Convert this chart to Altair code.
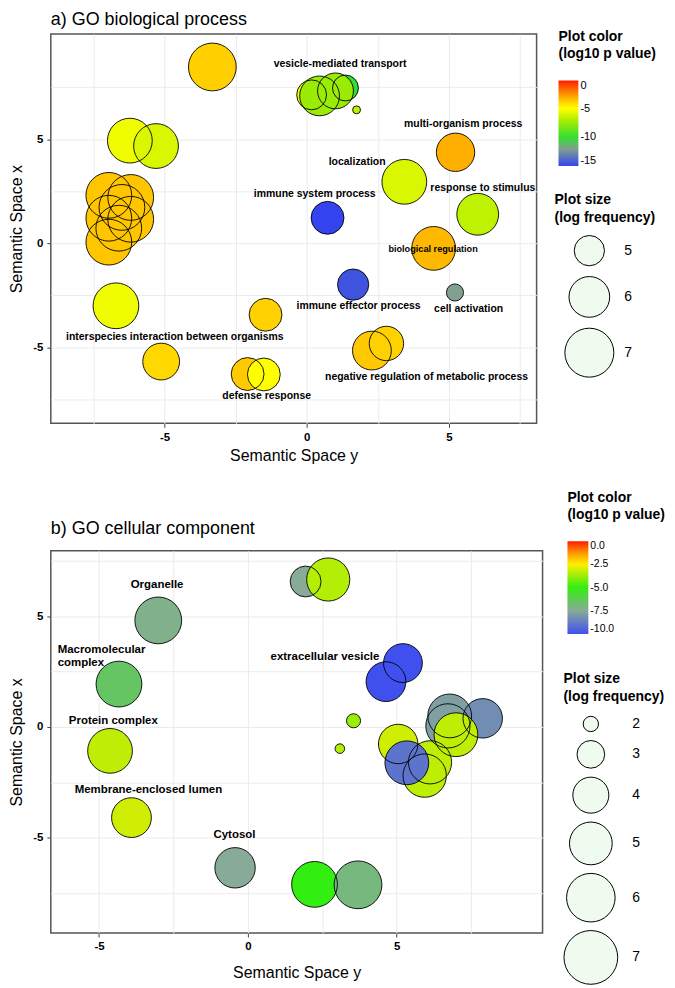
import altair as alt
import pandas as pd

FONT = "Liberation Sans"

# ---------------- a) GO biological process ----------------
bp_sy = [-3.32, 0.17, 1.36, 0.45, 1.01, 1.75, -6.22, -5.30,
         -6.96, -6.19, -6.50, -6.96, -6.19, -6.61, -6.96,
         -6.71, -1.45, -5.12, -2.08, -1.51, 0.73, 1.63, 5.21,
         2.29, 2.80, 4.46, 6.01, 3.43, 5.23]
bp_sx = [8.47, 7.13, 7.46, 7.08, 7.32, 6.41, 4.93, 4.67,
         2.30, 2.20, 1.72, 1.20, 1.15, 0.72, 0.05,
         -3.01, -3.44, -5.69, -6.29, -6.31, 1.22, -1.99, -2.37,
         -5.16, -4.82, -0.25, 1.39, 2.95, 4.37]
bp_logp = [-3.7, -5.35, -10.0, -7.4, -7.4, -6.5, -5.35, -5.9,
           -3.5, -3.5, -3.5, -3.5, -3.5, -3.5, -3.5,
           -5.35, -3.75, -3.9, -3.6, -5.0, -15.0, -14.5, -12.0,
           -3.55, -3.75, -3.2, -6.5, -5.9, -3.0]
bp_logsize = [6.84, 4.97, 4.67, 5.90, 5.50, 3.85, 6.47, 6.47,
              6.59, 6.59, 6.59, 6.59, 6.59, 6.59, 6.59,
              6.59, 5.22, 5.59, 5.22, 5.22, 5.22, 5.08, 4.16,
              5.80, 5.36, 6.35, 6.12, 6.47, 5.75]

bp_label_text = ["vesicle-mediated transport", "multi-organism process", "localization",
                 "immune system process", "response to stimulus", "immune effector process",
                 "cell activation", "interspecies interaction between organisms",
                 "negative regulation of metabolic process", "defense response"]
bp_label_sy = [1.17, 5.50, 1.77, 0.28, 6.19, 1.82, 5.69, -4.64, 4.21, -1.41]
bp_label_sx = [8.61, 5.74, 3.92, 2.34, 2.67, -3.01, -3.17, -4.50, -6.44, -7.37]

bp_small_text = ["biological regulation"]
bp_small_sy = [4.44]
bp_small_sx = [-0.27]

bp_color_domain = [-15, -12, -10, -7, -5, -4, -2, 0]
bp_color_range = ["#3344ee", "#80a090", "#33dd33", "#aaee00", "#ffff00", "#ffdd00", "#ff8000", "#ff1a00"]
bp_color_ticks = [0, -5, -10, -15]
bp_size_ticks = [5, 6, 7]

# ---------------- b) GO cellular component ----------------
cc_sy = [-3.01, -4.33, -4.63, -3.91, -0.43, 2.24, 3.70, 1.94, 2.70,
         5.21, 4.64, 3.55, 3.09,
         6.78, 6.72, 7.89, 6.99, 5.05, 6.12, 5.94, 5.34]
cc_sx = [4.82, 1.94, -1.08, -4.10, -6.37, -7.12, -7.14, 6.58, 6.67,
         2.89, 2.05, 0.28, -0.98,
         0.50, 0.05, 0.39, -0.35, -0.77, -1.60, -2.20, -1.62]
cc_logp = [-7.25, -6.5, -3.3, -3.08, -7.5, -5.0, -7.0, -7.5, -3.43,
           -10.0, -10.0, -3.75, -3.43,
           -7.8, -7.8, -8.3, -3.3, -3.08, -3.3, -3.3, -9.0]
cc_logsize = [5.68, 5.51, 5.33, 4.54, 4.63, 5.51, 5.86, 3.35, 5.06,
              4.40, 4.54, 1.93, 1.73,
              5.17, 5.24, 4.49, 5.17, 4.49, 5.07, 5.10, 5.17]

cc_label_text = ["Organelle", "Protein complex", "Membrane-enclosed lumen", "Cytosol",
                 "extracellular vesicle"]
cc_label_sy = [-3.05, -4.52, -3.34, -0.45, 2.59]
cc_label_sx = [6.40, 0.28, -2.87, -4.90, 3.17]

cc_left_text = ["Macromolecular", "complex"]
cc_left_sy = [-6.39, -6.39]
cc_left_sx = [3.50, 2.90]

cc_color_domain = [-10, -7.5, -5, -2.5, -1.25, 0]
cc_color_range = ["#4050ee", "#88aa99", "#33ee11", "#ffee00", "#ff9900", "#ff1a00"]
cc_color_ticks = [0, -2.5, -5, -7.5, -10]
cc_size_ticks = [2, 3, 4, 5, 6, 7]


def tick_cond():
    return {"condition": {"test": "datum.value % 5 !== 0", "value": 0}, "value": 1}


LABEL_EXPR = "datum.value % 5 === 0 ? (datum.value < 0 ? '-' + abs(datum.value) : '' + datum.value) : ''"


def panel(sy, sx, logp, logsize, lab_t, lab_x, lab_y, extra_layers,
          xdom, ydom, grid_vals_x, grid_vals_y, x_title_pad,
          cdom, crng, cticks, cfmt, glen, gthick, clx, cly, clabel_size, ctitlepad,
          sdom, srng, sticks, slx, sly, soff, slaboff, srowpad, stitlepad,
          lab_size, width, height, title, title_dy):
    df = pd.DataFrame({"sy": sy, "sx": sx, "logp": logp, "logsize": logsize})
    ldf = pd.DataFrame({"t": lab_t, "sy": lab_x, "sx": lab_y})

    x = alt.X("sy:Q", scale=alt.Scale(domain=xdom, nice=False, zero=False),
              axis=alt.Axis(title="Semantic Space y", values=grid_vals_x, labelExpr=LABEL_EXPR,
                            tickOpacity=tick_cond(), titlePadding=x_title_pad))
    y = alt.Y("sx:Q", scale=alt.Scale(domain=ydom, nice=False, zero=False),
              axis=alt.Axis(title="Semantic Space x", values=grid_vals_y, labelExpr=LABEL_EXPR,
                            tickOpacity=tick_cond(), titlePadding=8))

    if cfmt == "d":
        cexpr = "datum.value < 0 ? '-' + abs(datum.value) : '' + datum.value"
    else:
        cexpr = "datum.value < 0 ? '-' + format(abs(datum.value), '.1f') : format(datum.value, '.1f')"

    color = alt.Color("logp:Q",
                      scale=alt.Scale(domain=cdom, range=crng, interpolate="rgb"),
                      legend=alt.Legend(title=["Plot color", "(log10 p value)"], orient="none",
                                        legendX=clx, legendY=cly, values=cticks, labelExpr=cexpr,
                                        gradientLength=glen, gradientThickness=gthick,
                                        labelFontSize=clabel_size, direction="vertical",
                                        titlePadding=ctitlepad))
    size_legend = alt.Legend(title=["Plot size", "(log frequency)"], orient="none",
                             legendX=slx, legendY=sly, values=sticks, symbolOffset=soff,
                             symbolFillColor="#effbef", symbolStrokeColor="black",
                             symbolStrokeWidth=1, labelFontSize=14, rowPadding=srowpad,
                             labelOffset=slaboff, symbolType="circle", format="d",
                             titlePadding=stitlepad)
    size = alt.Size("logsize:Q", scale=alt.Scale(domain=sdom, range=srng, zero=False),
                    legend=size_legend)

    fill = alt.Chart(df).mark_circle(opacity=1, strokeWidth=0).encode(
        x=x, y=y, color=color, size=size)
    outline = alt.Chart(df).mark_circle(fillOpacity=0, stroke="black", strokeWidth=1,
                                        strokeOpacity=0.9).encode(
        x=x, y=y, size=alt.Size("logsize:Q", scale=alt.Scale(domain=sdom, range=srng, zero=False),
                                legend=None))
    labels = alt.Chart(ldf).mark_text(font=FONT, fontWeight="bold", fontSize=lab_size,
                                      color="black", baseline="middle").encode(
        x=x, y=y, text="t:N")
    layers = [fill, outline, labels]
    for (t, lx, ly, fs, al) in extra_layers:
        edf = pd.DataFrame({"t": t, "sy": lx, "sx": ly})
        layers.append(alt.Chart(edf).mark_text(font=FONT, fontWeight="bold", fontSize=fs,
                                               color="black", baseline="middle", align=al).encode(
            x=x, y=y, text="t:N"))
    return alt.layer(*layers).properties(
        width=width, height=height,
        title=alt.TitleParams(title, anchor="start", font=FONT, fontSize=18, fontWeight="normal",
                              offset=5, dy=title_dy, color="black", frame="group"))


top = panel(bp_sy, bp_sx, bp_logp, bp_logsize, bp_label_text, bp_label_sy, bp_label_sx,
            [(bp_small_text, bp_small_sy, bp_small_sx, 9.2, "center")],
            [-9.0, 8.08], [-8.66, 10.05],
            [-7.5, -5, -2.5, 0, 2.5, 5, 7.5], [-7.5, -5, -2.5, 0, 2.5, 5, 7.5], 5,
            bp_color_domain, bp_color_range, bp_color_ticks, "d", 86, 20, 510, -4, 11, 19,
            [5, 7], [924, 2421], bp_size_ticks, 506, 160, 9.5, 9.5, 5.5, 10,
            10.5, 488, 391, "a) GO biological process", 4)

bottom = panel(cc_sy, cc_sx, cc_logp, cc_logsize, cc_label_text, cc_label_sy, cc_label_sx,
               [(cc_left_text, cc_left_sy, cc_left_sx, 11.5, "left")],
               [-6.62, 9.9], [-9.32, 7.97],
               [-5, -2.5, 0, 2.5, 5, 7.5], [-7.5, -5, -2.5, 0, 2.5, 5, 7.5], 12,
               cc_color_domain, cc_color_range, cc_color_ticks, "f", 93, 21, 519, -60, 10.5, 19,
               [2, 7], [237, 2916], cc_size_ticks, 515, 122, 0, 14, 3.5, 12,
               11.5, 494, 384, "b) GO cellular component", 52)

chart = alt.vconcat(top, bottom, spacing=128, bounds="flush").resolve_scale(
    color="independent", size="independent", x="independent", y="independent"
).resolve_legend(color="independent", size="independent").properties(
    padding=0
).configure_view(
    stroke="#555555", strokeWidth=1.5
).configure_axis(
    labelFont=FONT, labelFontWeight="bold", labelFontSize=11.5, labelColor="black",
    titleFont=FONT, titleFontWeight="normal", titleFontSize=16, titleColor="black",
    tickColor="#444444", tickSize=4, domain=False, gridColor="#ebebeb", gridWidth=1,
    labelPadding=4
).configure_legend(
    titleFont=FONT, titleFontWeight="bold", titleFontSize=14, titleColor="black",
    titleLineHeight=17.5, labelFont=FONT, labelColor="black",
    gradientStrokeWidth=0
)

chart.save("out.html", embed_options={"renderer": "svg", "actions": False})
